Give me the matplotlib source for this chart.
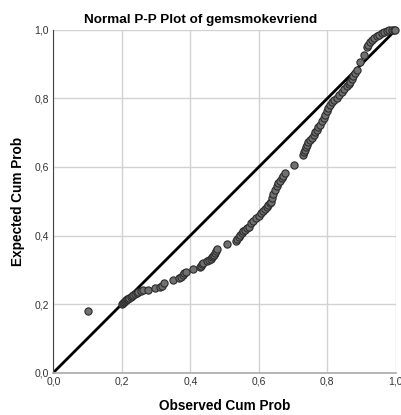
import matplotlib.pyplot as plt
import numpy as np

plt.rcParams['font.family'] = ['Liberation Sans', 'DejaVu Sans']

# observed cum prob / expected cum prob
obs = [0.100, 0.200, 0.203, 0.206, 0.209, 0.212, 0.215, 0.219, 0.222, 0.226,
       0.229, 0.234, 0.238, 0.243, 0.248, 0.256, 0.263, 0.277, 0.297, 0.312,
       0.317, 0.323, 0.349, 0.368, 0.372, 0.378, 0.383, 0.388, 0.409, 0.428,
       0.431, 0.435, 0.438, 0.448, 0.455, 0.460, 0.464, 0.467, 0.470, 0.472,
       0.475, 0.477, 0.506, 0.534, 0.536, 0.541, 0.546, 0.550, 0.555, 0.560,
       0.565, 0.570, 0.576, 0.584, 0.592, 0.600, 0.607, 0.612, 0.618, 0.623,
       0.628, 0.632, 0.635, 0.638, 0.642, 0.647, 0.652, 0.657, 0.662, 0.667,
       0.672, 0.677, 0.703, 0.730, 0.732, 0.735, 0.738, 0.740, 0.745, 0.750,
       0.755, 0.760, 0.764, 0.769, 0.774, 0.779, 0.784, 0.789, 0.794, 0.798,
       0.803, 0.808, 0.813, 0.820, 0.828, 0.835, 0.842, 0.850, 0.857, 0.862,
       0.867, 0.871, 0.876, 0.881, 0.886, 0.896, 0.908, 0.917, 0.920, 0.925,
       0.930, 0.937, 0.944, 0.951, 0.959, 0.966, 0.974, 0.981, 0.988, 0.994,
       0.998]
exp = [0.181, 0.200, 0.203, 0.206, 0.209, 0.211, 0.214, 0.216, 0.219, 0.221,
       0.224, 0.226, 0.229, 0.232, 0.236, 0.238, 0.240, 0.241, 0.246, 0.251,
       0.253, 0.261, 0.269, 0.275, 0.278, 0.284, 0.290, 0.295, 0.302, 0.308,
       0.311, 0.316, 0.321, 0.327, 0.330, 0.332, 0.337, 0.340, 0.344, 0.348,
       0.354, 0.360, 0.375, 0.385, 0.389, 0.397, 0.402, 0.407, 0.412, 0.416,
       0.421, 0.426, 0.436, 0.443, 0.450, 0.458, 0.465, 0.471, 0.477, 0.483,
       0.489, 0.494, 0.499, 0.510, 0.520, 0.533, 0.545, 0.553, 0.560, 0.567,
       0.575, 0.582, 0.606, 0.635, 0.643, 0.650, 0.657, 0.664, 0.672, 0.679,
       0.686, 0.694, 0.701, 0.708, 0.716, 0.723, 0.733, 0.742, 0.752, 0.762,
       0.771, 0.781, 0.790, 0.796, 0.802, 0.811, 0.820, 0.828, 0.835, 0.842,
       0.849, 0.857, 0.864, 0.874, 0.883, 0.907, 0.927, 0.950, 0.956, 0.964,
       0.971, 0.976, 0.981, 0.986, 0.990, 0.994, 0.997, 0.999, 1.000, 1.000,
       1.000]

ticks = [0.0, 0.2, 0.4, 0.6, 0.8, 1.0]
tick_labels = ['0,0', '0,2', '0,4', '0,6', '0,8', '1,0']

fig = plt.figure(figsize=(4.01, 4.15), dpi=100)
ax = fig.add_axes([0.133, 0.102, 0.854, 0.826])

ax.plot([0, 1], [0, 1], color='black', lw=2.0, zorder=2)
ax.plot(obs, exp, 'o', ms=5.2, mfc='#707070', mec='#2b2b2b', mew=0.8,
        clip_on=False, zorder=3)

ax.set_xlim(0, 1)
ax.set_ylim(0, 1)
ax.set_xticks(ticks)
ax.set_xticklabels(tick_labels)
ax.set_yticks(ticks)
ax.set_yticklabels(tick_labels)
ax.tick_params(length=0, labelsize=7.5, colors='#333333', pad=3)
ax.grid(True, color='#d2d2d2', lw=1.0)
ax.set_axisbelow(True)

for s in ['top', 'right']:
    ax.spines[s].set_visible(False)
ax.spines['left'].set_color('#444444')
ax.spines['left'].set_linewidth(0.8)
ax.spines['bottom'].set_color('#aaaaaa')
ax.spines['bottom'].set_linewidth(1.2)

fig.text(0.5, 0.952, 'Normal P-P Plot of gemsmokevriend', fontsize=9.7,
         fontweight='bold', ha='center', va='center')
ax.set_xlabel('Observed Cum Prob', fontsize=9.8, fontweight='bold', labelpad=9)
ax.set_ylabel('Expected Cum Prob', fontsize=9.8, fontweight='bold', labelpad=7)

fig.savefig('out.png', dpi=100)
